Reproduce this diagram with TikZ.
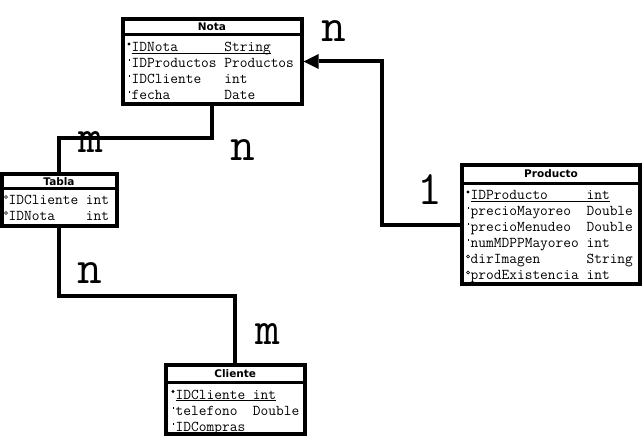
\documentclass[tikz,border=0pt]{standalone}
\usepackage{fontspec}
\newfontfamily\titlefont{DejaVu Sans}
\usetikzlibrary{arrows.meta}

\tikzset{
    umlbox/.style={draw, line width=4pt, inner sep=0pt},
    umlsep/.style={line width=3pt},
    umltitle/.style={inner sep=0pt, font=\titlefont\bfseries\fontsize{10.5}{12}\selectfont},
    umlrow/.style={anchor=base west, inner sep=0pt, font=\fontsize{15}{16}\selectfont\ttfamily},
    cardinal/.style={inner sep=0pt, font=\fontsize{48}{48}\selectfont\ttfamily},
    relation/.style={line width=4pt},
}

\newcommand{\pkMark}[1]
{
    \fill ([xshift=-2.5pt,yshift=7.5pt]#1.base west) circle (1.6pt);
}
\newcommand{\atMark}[1]
{
    \fill ([xshift=-3pt,yshift=8.5pt]#1.base west) rectangle ++(1.2pt,-2.4pt);
}
\newcommand{\fkMark}[1]
{
    \draw[line width=0.7pt] ([xshift=-2.5pt,yshift=7pt]#1.base west) circle (1.5pt);
}
\newcommand{\underRow}[1]
{
    \draw[line width=0.8pt] ([yshift=-1.5pt]#1.base west) -- ([yshift=-1.5pt]#1.base east);
}

\begin{document}
\begin{tikzpicture}[x=1pt, y=-1pt]

    \useasboundingbox (0,0) rectangle (643,436);

    %draws class Nota
    \node[umlbox, minimum width=179pt, minimum height=85pt] (nota) at (212,61.5) {};
    \draw[umlsep] (nota.west |- 0,34.5) -- (nota.east |- 0,34.5);
    \node[umltitle] (notaTitle) at (nota.north |- 0,27) {Nota};
    \node[umlrow] (notaA) at (131.5,51.5) {IDNota~~~~~~String};
    \node[umlrow] (notaB) at (131.5,67.5) {IDProductos~Productos};
    \node[umlrow] (notaC) at (131.5,83.5) {IDCliente~~~int};
    \node[umlrow] (notaD) at (131.5,99.5) {fecha~~~~~~~Date};
    \pkMark{notaA} \atMark{notaB} \atMark{notaC} \atMark{notaD}
    \underRow{notaA}

    %draws class Producto
    \node[umlbox, minimum width=178pt, minimum height=119pt] (producto) at (551,224.5) {};
    \draw[umlsep] (producto.west |- 0,183) -- (producto.east |- 0,183);
    \node[umltitle] (productoTitle) at (producto.north |- 0,174) {Producto};
    \node[umlrow] (productoA) at (470.5,199.5) {IDProducto~~~~~int};
    \node[umlrow] (productoB) at (470.5,215.5) {precioMayoreo~~Double};
    \node[umlrow] (productoC) at (470.5,231.5) {precioMenudeo~~Double};
    \node[umlrow] (productoD) at (470.5,247.5) {numMDPPMayoreo~int};
    \node[umlrow] (productoE) at (470.5,263.5) {dirImagen~~~~~~String};
    \node[umlrow] (productoF) at (470.5,279.5) {prodExistencia~int};
    \pkMark{productoA} \atMark{productoB} \atMark{productoC} \atMark{productoD}
    \fkMark{productoE} \fkMark{productoF}
    \underRow{productoA}

    %draws class Tabla
    \node[umlbox, minimum width=115pt, minimum height=52pt] (tabla) at (59,200) {};
    \draw[umlsep] (tabla.west |- 0,188) -- (tabla.east |- 0,188);
    \node[umltitle] (tablaTitle) at (tabla.north |- 0,181.5) {Tabla};
    \node[umlrow] (tablaA) at (8.5,204) {IDCliente~int};
    \node[umlrow] (tablaB) at (8.5,220) {IDNota~~~~int};
    \fkMark{tablaA} \fkMark{tablaB}

    %draws class Cliente
    \node[umlbox, minimum width=139.5pt, minimum height=69pt] (cliente) at (235.25,399.5) {};
    \draw[umlsep] (cliente.west |- 0,382.5) -- (cliente.east |- 0,382.5);
    \node[umltitle] (clienteTitle) at (cliente.north |- 0,374) {Cliente};
    \node[umlrow] (clienteA) at (175.5,399) {IDCliente~int};
    \node[umlrow] (clienteB) at (175.5,415) {telefono~~Double};
    \node[umlrow] (clienteC) at (175.5,431) {IDCompras};
    \pkMark{clienteA} \atMark{clienteB} \atMark{clienteC}
    \underRow{clienteA} \underRow{clienteC}

    %draws relations
    \draw[relation, -{Triangle[length=15pt, width=15pt, line width=0pt]}]
        (producto.west) -- ++(-78,0) |- (nota.east);
    \draw[relation] (nota.south) -- ++(0,32) -| (tabla.north);
    \draw[relation] (tabla.south) -- ++(0,68) -| (cliente.north);

    %draws cardinalities
    \node[cardinal] (cardNotaProd) at (334,31) {n};
    \node[cardinal] (cardNotaTabla) at (90.5,142.5) {m};
    \node[cardinal] (cardTablaNota) at (243,150) {n};
    \node[cardinal] (cardProdNota) at (429.5,190) {1};
    \node[cardinal] (cardTablaCli) at (90,273) {n};
    \node[cardinal] (cardCliTabla) at (268,334) {m};

\end{tikzpicture}
\end{document}
